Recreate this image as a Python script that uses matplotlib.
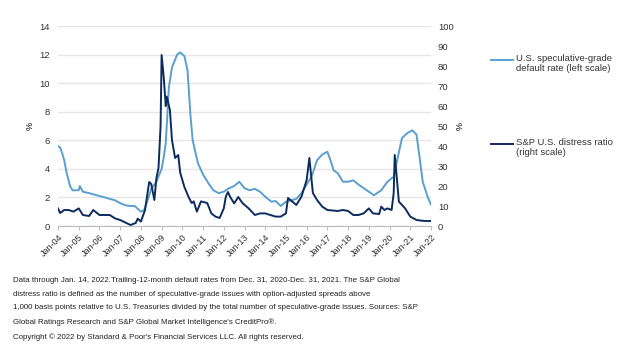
import matplotlib
matplotlib.use("Agg")
import matplotlib.pyplot as plt
import numpy as np

plt.rcParams['font.family'] = ['Liberation Sans', 'DejaVu Sans']

# U.S. speculative-grade default rate (left scale, %)
default_t = [2004.0, 2004.1, 2004.2, 2004.3, 2004.42, 2004.58, 2004.7, 2004.85, 2005.0, 2005.05,
             2005.2, 2005.5, 2005.75, 2006.0, 2006.25, 2006.5, 2006.75, 2007.0, 2007.25, 2007.5,
             2007.7, 2008.0, 2008.15, 2008.3, 2008.5, 2008.75, 2009.0, 2009.1, 2009.2, 2009.35,
             2009.5, 2009.75, 2009.9, 2010.1, 2010.25, 2010.4, 2010.5, 2010.75, 2011.0, 2011.3,
             2011.5, 2011.75, 2012.0, 2012.2, 2012.5, 2012.75, 2013.0, 2013.25, 2013.5, 2013.75,
             2014.0, 2014.3, 2014.5, 2014.75, 2015.0, 2015.25, 2015.5, 2015.75, 2016.0, 2016.25,
             2016.5, 2016.75, 2017.0, 2017.15, 2017.3, 2017.5, 2017.75, 2018.0, 2018.25, 2018.5,
             2018.65, 2019.0, 2019.25, 2019.4, 2019.6, 2019.9, 2020.2, 2020.35, 2020.5, 2020.6,
             2020.85, 2021.1, 2021.3, 2021.45, 2021.6, 2021.85, 2022.0]
default_v = [5.6, 5.5, 5.1, 4.6, 3.7, 2.8, 2.5, 2.5, 2.5, 2.8,
             2.4, 2.3, 2.2, 2.1, 2.0, 1.9, 1.8, 1.6, 1.45, 1.4,
             1.4, 1.0, 1.1, 1.7, 2.6, 3.1, 4.0, 4.8, 5.8, 9.7,
             11.1, 12.0, 12.15, 11.9, 10.9, 7.6, 6.0, 4.4, 3.6, 2.9,
             2.5, 2.3, 2.4, 2.6, 2.8, 3.1, 2.65, 2.5, 2.6, 2.4,
             2.05, 1.7, 1.75, 1.4, 1.7, 1.8, 1.9, 2.3, 2.9, 3.5,
             4.6, 5.0, 5.2, 4.6, 3.9, 3.7, 3.1, 3.1, 3.2, 2.9,
             2.75, 2.4, 2.15, 2.3, 2.5, 3.1, 3.45, 4.5, 5.5, 6.15,
             6.5, 6.7, 6.4, 4.8, 3.1, 2.0, 1.5]

# S&P U.S. distress ratio (right scale, %)
distress_t = [2004.0, 2004.1, 2004.3, 2004.5, 2004.75, 2005.0, 2005.2, 2005.5, 2005.7, 2006.0,
              2006.5, 2006.75, 2007.0, 2007.3, 2007.5, 2007.75, 2007.85, 2008.0, 2008.2, 2008.4,
              2008.5, 2008.65, 2008.75, 2008.85, 2008.95, 2009.0, 2009.1, 2009.2, 2009.25, 2009.4,
              2009.5, 2009.65, 2009.8, 2009.9, 2010.1, 2010.3, 2010.45, 2010.55, 2010.7, 2010.9,
              2011.2, 2011.4, 2011.6, 2011.8, 2012.0, 2012.1, 2012.2, 2012.3, 2012.5, 2012.7,
              2012.9, 2013.2, 2013.5, 2013.75, 2014.0, 2014.5, 2014.75, 2015.0, 2015.1, 2015.3,
              2015.5, 2015.75, 2015.9, 2016.0, 2016.13, 2016.3, 2016.5, 2016.75, 2017.0, 2017.5,
              2017.75, 2018.0, 2018.25, 2018.5, 2018.75, 2019.0, 2019.2, 2019.5, 2019.6, 2019.75,
              2019.9, 2020.1, 2020.2, 2020.25, 2020.35, 2020.45, 2020.6, 2020.75, 2021.0, 2021.3,
              2021.6, 2021.8, 2022.0]
distress_v = [8.8, 6.5, 8.0, 8.0, 7.2, 8.8, 5.5, 5.0, 8.0, 5.5,
              5.5, 3.8, 3.0, 1.5, 0.5, 1.5, 3.7, 2.2, 8.0, 22.0,
              21.0, 13.0, 24.0, 29.0, 50.0, 85.5, 74.7, 60.0, 64.7, 58.0,
              43.0, 34.0, 35.5, 26.5, 19.5, 14.5, 11.5, 12.3, 7.2, 12.3,
              11.5, 6.3, 4.7, 4.0, 8.8, 14.7, 17.0, 14.7, 11.3, 14.5,
              11.5, 8.8, 5.5, 6.3, 6.3, 4.7, 4.7, 6.3, 14.0, 12.3,
              10.5, 14.7, 19.7, 23.0, 34.0, 16.5, 13.0, 9.7, 8.0, 7.5,
              8.0, 7.5, 5.5, 5.5, 6.3, 8.8, 6.3, 6.0, 9.7, 8.0,
              8.8, 8.0, 16.5, 35.5, 24.0, 12.2, 10.5, 8.8, 4.7, 3.0,
              2.6, 2.5, 2.5]

years = list(range(2004, 2023))
xlabels = [f"Jan-{y % 100:02d}" for y in years]

light = '#5a9fce'
dark = '#0c2c5e'

fig = plt.figure(figsize=(6.19, 3.52), dpi=100)
ax = fig.add_axes([58/619, 1-226/352, (431-58)/619, 200/352])
ax2 = ax.twinx()

ax.plot(default_t, default_v, color=light, lw=1.4, zorder=3)
ax2.plot(distress_t, distress_v, color=dark, lw=1.4, zorder=3)

ax.set_xlim(2004, 2022)
ax.set_ylim(0, 14)
ax2.set_ylim(0, 100)
ax.set_yticks(np.arange(0, 15, 2))
ax2.set_yticks(np.arange(0, 101, 10))
ax.set_xticks(years)
ax.set_xticklabels(xlabels, rotation=45, ha='right', rotation_mode='anchor', fontsize=6.5, color='#333333')
ax.tick_params(axis='x', length=3, color='#bfbfbf', pad=2)
ax.tick_params(axis='y', length=0, labelsize=6.8, pad=6, labelcolor='#333333')
ax2.tick_params(axis='y', length=0, labelsize=6.8, pad=5, labelcolor='#333333')
ax.grid(axis='y', color='#e6e6e6', lw=1)
ax.set_axisbelow(True)
for a in (ax, ax2):
    for s in ['top', 'left', 'right']:
        a.spines[s].set_visible(False)
    a.spines['bottom'].set_color('#bfbfbf')

ax.set_ylabel('%', fontsize=6.5, labelpad=3)
ax2.set_ylabel('%', fontsize=6.5, rotation=270, labelpad=6)

# legend
fig.lines.append(plt.Line2D([491/619, 513/619], [1-60/352, 1-60/352], color=light, lw=1.4, transform=fig.transFigure))
fig.lines.append(plt.Line2D([491/619, 513/619], [1-144/352, 1-144/352], color=dark, lw=1.4, transform=fig.transFigure))
fig.text(516/619, 1-54/352, "U.S. speculative-grade\ndefault rate (left scale)", fontsize=6.8,
         va='top', ha='left', color='#333333', linespacing=1.2)
fig.text(516/619, 1-138/352, "S&P U.S. distress ratio\n(right scale)", fontsize=6.8,
         va='top', ha='left', color='#333333', linespacing=1.2)

foot = ("Data through Jan. 14, 2022.Trailing-12-month default rates from Dec. 31, 2020-Dec. 31, 2021. The S&P Global\n"
        "distress ratio is defined as the number of speculative-grade issues with option-adjusted spreads above\n"
        "1,000 basis points relative to U.S. Treasuries divided by the total number of speculative-grade issues. Sources: S&P\n"
        "Global Ratings Research and S&P Global Market Intelligence's CreditPro®.\n"
        "Copyright © 2022 by Standard & Poor's Financial Services LLC. All rights reserved.")
fig.text(13/619, 1-277/352, foot, fontsize=5.7, va='top', ha='left', color='#222222', linespacing=2.3)

fig.savefig('out.png', dpi=100)
